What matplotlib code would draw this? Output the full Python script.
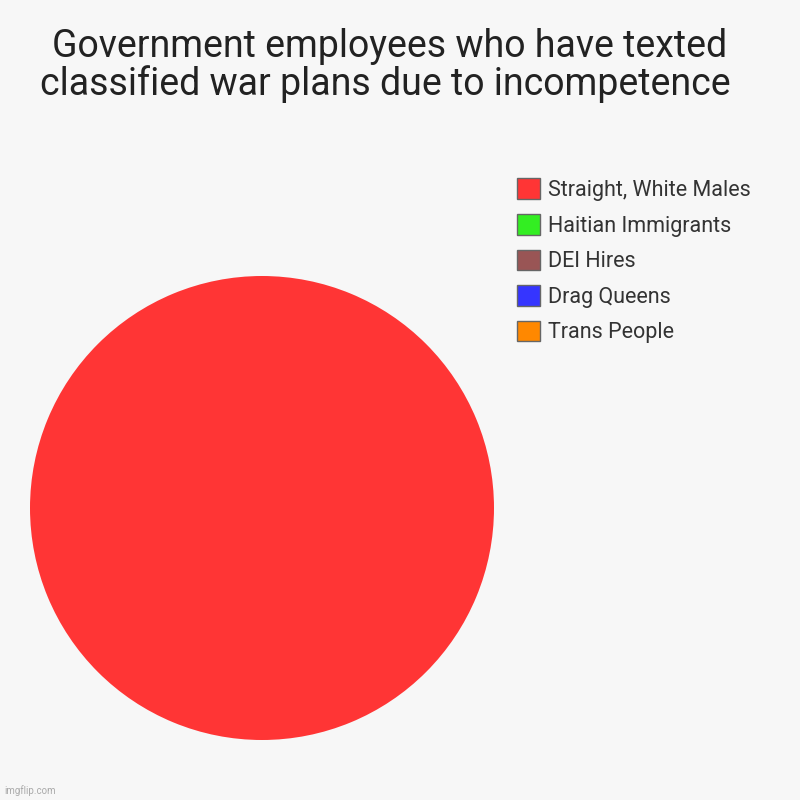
import matplotlib.pyplot as plt
from matplotlib.patches import Patch

plt.rcParams['font.family'] = ['Roboto', 'DejaVu Sans']

labels = ['Straight, White Males', 'Haitian Immigrants', 'DEI Hires', 'Drag Queens', 'Trans People']
values = [1, 0, 0, 0, 0]
colors = ['#ff3535', '#33ee22', '#995555', '#3535ff', '#ff8800']

fig = plt.figure(figsize=(8, 8), dpi=100)
fig.patch.set_facecolor('#f7f7f7')

ax = fig.add_axes([0.0375, 0.075, 0.58, 0.58])
ax.pie(values, colors=colors, startangle=90, counterclock=False,
       wedgeprops={'linewidth': 0})
ax.set_xlim(-1, 1)
ax.set_ylim(-1, 1)
ax.set_aspect('equal')

fig.text(0.4875, 0.918, 'Government employees who have texted\nclassified war plans due to incompetence ',
         ha='center', va='center', fontsize=27, color='#222222', linespacing=1.0)

handles = [Patch(facecolor=c, edgecolor='#666666', linewidth=1) for c in colors]
fig.legend(handles, labels, loc='upper left', bbox_to_anchor=(0.646, 0.777),
           frameon=False, fontsize=15.5, handlelength=1.1, handleheight=1.1,
           labelspacing=0.6, handletextpad=0.37, labelcolor='#333333',
           borderpad=0, borderaxespad=0)

fig.text(0.005, 0.005, 'imgflip.com', fontsize=7, color='#aaaaaa', ha='left', va='bottom')

fig.savefig('out.png', dpi=100, facecolor=fig.get_facecolor())
